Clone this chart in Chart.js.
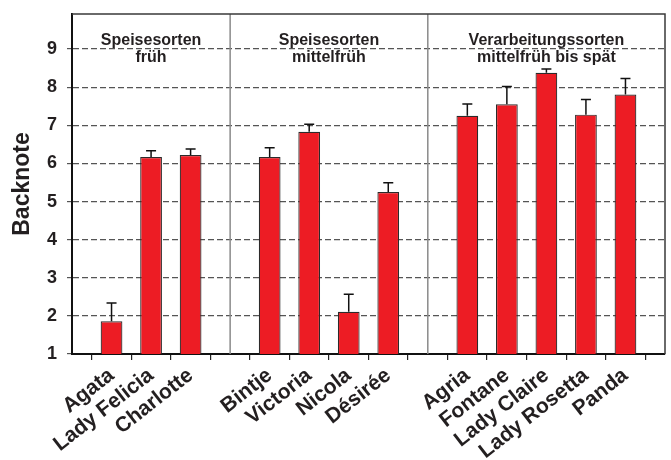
<!DOCTYPE html>
<html>
<head>
<meta charset="utf-8">
<script src="https://cdn.jsdelivr.net/npm/chart.js@4.4.1/dist/chart.umd.min.js"></script>
<style>
  html, body { margin: 0; padding: 0; background: #fff; }
  #wrap { width: 671px; height: 460px; }
</style>
</head>
<body>
<div id="wrap"><canvas id="chart"></canvas></div>
<script>
// empty labels are the gaps between the three groups
const varieties = ['', 'Agata', 'Lady Felicia', 'Charlotte', '', 'Bintje', 'Victoria', 'Nicola', 'Désirée', '', 'Agria', 'Fontane', 'Lady Claire', 'Lady Rosetta', 'Panda', ''];
const backnote = [null, 1.86, 6.17, 6.22, null, 6.17, 6.83, 2.11, 5.25, null, 7.25, 7.55, 8.38, 7.28, 7.81, null];
const errorUp = [null, 0.48, 0.16, 0.16, null, 0.24, 0.20, 0.46, 0.24, null, 0.31, 0.47, 0.10, 0.40, 0.42, null];
const yTicks = [1, 2, 3, 4, 5, 6, 7, 8, 9];
const separators = [4, 9];
const groupHeaders = [
  { lines: ['Speisesorten', 'früh'], from: 1, to: 3 },
  { lines: ['Speisesorten', 'mittelfrüh'], from: 5, to: 8 },
  { lines: ['Verarbeitungssorten', 'mittelfrüh bis spät'], from: 10, to: 14 }
];

const FONT = "'Liberation Sans', Arial, Helvetica, sans-serif";
const INK = '#231f20';

const framePlugin = {
  id: 'frame',
  beforeDatasetsDraw(chart) {
    const { ctx, chartArea: a, scales: { x } } = chart;
    ctx.save();
    ctx.strokeStyle = '#8a8a8a';
    ctx.lineWidth = 1.5;
    for (const idx of separators) {
      const px = x.getPixelForValue(idx);
      ctx.beginPath();
      ctx.moveTo(px, a.top);
      ctx.lineTo(px, a.bottom);
      ctx.stroke();
    }
    // group headers
    ctx.fillStyle = INK;
    ctx.font = 'bold 16px ' + FONT;
    ctx.textAlign = 'center';
    ctx.textBaseline = 'alphabetic';
    for (const g of groupHeaders) {
      const cx = (x.getPixelForValue(g.from) + x.getPixelForValue(g.to)) / 2;
      g.lines.forEach((line, i) => ctx.fillText(line, cx, a.top + 31 + i * 17));
    }
    ctx.restore();
  },
  afterDatasetsDraw(chart) {
    const { ctx, chartArea: a, scales: { y } } = chart;
    const meta = chart.getDatasetMeta(0);
    ctx.save();
    ctx.strokeStyle = '#111';
    ctx.lineWidth = 1.5;
    meta.data.forEach((bar, i) => {
      if (backnote[i] == null) return;
      const top = y.getPixelForValue(backnote[i] + errorUp[i]);
      ctx.beginPath();
      ctx.moveTo(bar.x, bar.y);
      ctx.lineTo(bar.x, top);
      ctx.moveTo(bar.x - 5, top);
      ctx.lineTo(bar.x + 5, top);
      ctx.stroke();
    });
    // top and right frame
    ctx.strokeStyle = '#3a3a3a';
    ctx.lineWidth = 1.5;
    ctx.beginPath();
    ctx.moveTo(a.left, a.top);
    ctx.lineTo(a.right, a.top);
    ctx.lineTo(a.right, a.bottom);
    ctx.stroke();
    ctx.restore();
  }
};

new Chart(document.getElementById('chart'), {
  type: 'bar',
  data: {
    labels: varieties,
    datasets: [{
      label: 'Backnote',
      data: backnote,
      backgroundColor: '#ed1c24',
      borderColor: '#2b2b2b',
      borderWidth: 1.2,
      barPercentage: 0.55,
      categoryPercentage: 1
    }]
  },
  options: {
    responsive: true,
    maintainAspectRatio: false,
    animation: false,
    layout: { padding: { top: 14, right: 6, left: 0, bottom: 0 } },
    plugins: { legend: { display: false }, tooltip: { enabled: false } },
    scales: {
      x: {
        offset: false,
        afterFit(scale) {
          scale.height = 106;
          scale.paddingLeft = 0;
          scale.paddingRight = 0;
        },
        grid: { drawOnChartArea: false, drawTicks: true, tickLength: 6, color: '#222', lineWidth: 1.2 },
        border: { display: true, color: '#111', width: 2 },
        ticks: {
          autoSkip: false,
          minRotation: 38,
          maxRotation: 38,
          padding: 3,
          color: INK,
          font: { family: FONT, size: 21, weight: 'bold' }
        }
      },
      y: {
        min: 1,
        max: 9.92,
        afterFit(scale) {
          scale.width = 72;
          scale.paddingTop = 0;
          scale.paddingBottom = 0;
        },
        afterBuildTicks(scale) { scale.ticks = yTicks.map(v => ({ value: v })); },
        grid: { color: '#555', lineWidth: 1.2, tickLength: 5, tickBorderDash: [6, 3] },
        border: { display: true, color: '#111', width: 2, dash: [6, 3] },
        ticks: {
          padding: 10,
          color: INK,
          font: { family: FONT, size: 18, weight: 'bold' }
        },
        title: {
          display: true,
          text: 'Backnote',
          color: INK,
          padding: { top: 9, bottom: 0 },
          font: { family: FONT, size: 23, weight: 'bold' }
        }
      }
    }
  },
  plugins: [framePlugin]
});
</script>
</body>
</html>
